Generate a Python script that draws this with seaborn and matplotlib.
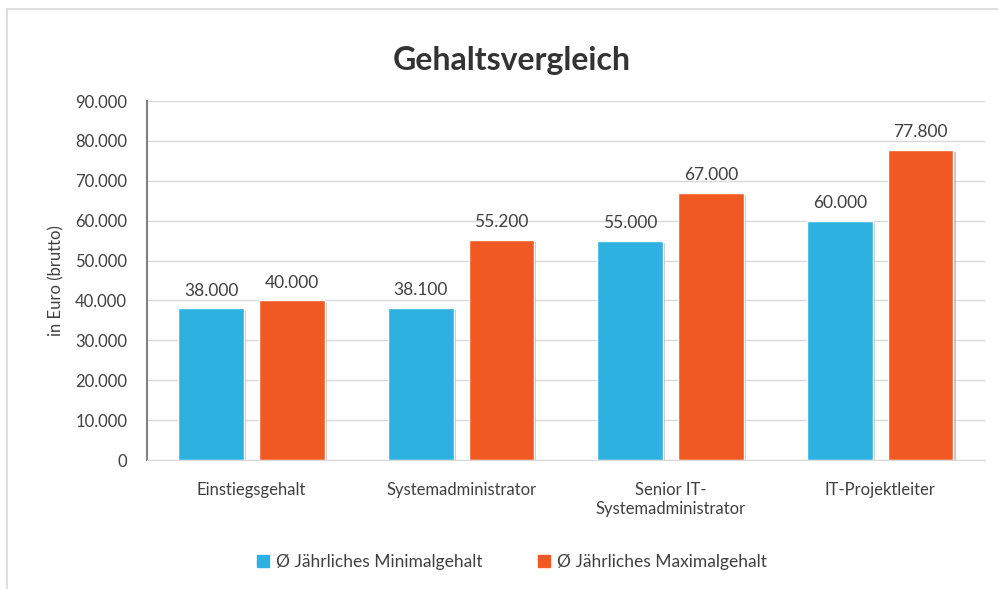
import pandas as pd
import numpy as np
import seaborn as sns
import matplotlib.pyplot as plt
import matplotlib.patheffects as pe
from matplotlib.ticker import FuncFormatter

categories = ["Einstiegsgehalt", "Systemadministrator", "Senior IT-\nSystemadministrator", "IT-Projektleiter"]
series_names = ["Ø Jährliches Minimalgehalt", "Ø Jährliches Maximalgehalt"]
min_salary = [38000, 38100, 55000, 60000]
max_salary = [40000, 55200, 67000, 77800]

df = pd.DataFrame({
    "Kategorie": categories * 2,
    "Serie": [series_names[0]] * 4 + [series_names[1]] * 4,
    "Wert": min_salary + max_salary,
})

sns.set_style("white")
plt.rcParams['font.family'] = ['Lato', 'DejaVu Sans']

fig = plt.figure(figsize=(9.98, 5.89), dpi=100)
ax = fig.add_axes([0.147, 0.219, 0.84, 0.6095])

def de_fmt(v):
    return f"{int(round(v)):,}".replace(",", ".")

colors = ["#2DB1E1", "#F05A22"]
sns.barplot(data=df, x="Kategorie", y="Wert", hue="Serie", palette=colors,
            width=0.77, gap=0.185, ax=ax, saturation=1, legend=True)

# leichter Schatten wie im Original
for p in ax.patches:
    p.set_path_effects([pe.SimplePatchShadow(offset=(1.5, -1.5), shadow_rgbFace="#888888", alpha=0.5), pe.Normal()])

for cont in ax.containers:
    ax.bar_label(cont, labels=[de_fmt(v) for v in cont.datavalues], padding=7,
                 fontsize=12.5, color="#404040")

ax.set_ylim(0, 90000)
ax.set_yticks(np.arange(0, 90001, 10000))
ax.yaxis.set_major_formatter(FuncFormatter(lambda v, _: de_fmt(v)))
ax.tick_params(axis="y", labelsize=12, colors="#404040", length=0, pad=14)
ax.tick_params(axis="x", labelsize=12, colors="#404040", length=0, pad=16)
ax.grid(axis="y", color="#D9D9D9", linewidth=1)
ax.set_axisbelow(True)
for s in ["top", "right"]:
    ax.spines[s].set_visible(False)
ax.spines["left"].set_color("#808080")
ax.spines["left"].set_linewidth(1.5)
ax.spines["bottom"].set_color("#D9D9D9")
ax.set_xlabel("")
ax.set_ylabel("in Euro (brutto)", fontsize=12, color="#404040", labelpad=8)

fig.text(0.513, 0.897, "Gehaltsvergleich", ha="center", va="center",
         fontsize=23, fontweight="bold", color="#333333")

ax.legend_.remove()
handles = [plt.Rectangle((0, 0), 1, 1, color=c) for c in colors]
fig.legend(handles, series_names, loc="center", bbox_to_anchor=(0.513, 0.046), ncol=2,
           frameon=False, fontsize=12.5, handlelength=0.7, handleheight=0.7,
           handletextpad=0.4, columnspacing=3.2, labelcolor="#404040")

# Rahmen um das Diagramm
fig.add_artist(plt.Rectangle((0.007, -0.01), 1.0, 0.995, transform=fig.transFigure,
                             fill=False, edgecolor="#D9D9D9", linewidth=1.2))

fig.savefig("out.png", dpi=100)
